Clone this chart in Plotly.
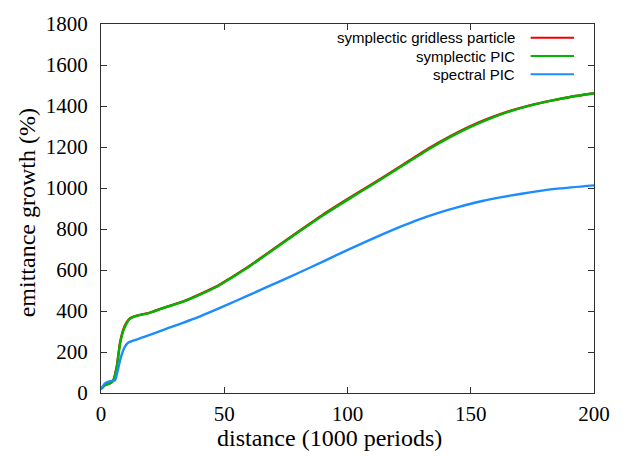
import plotly.graph_objects as go

# distance (1000 periods) / emittance growth (%)
x_gridless = [0, 1.6, 3.7, 5.0, 6.4, 7.7, 9.1, 10.4, 11.5, 12.5, 15, 19.9, 25, 33.4, 40.2, 46.9, 50, 56.4, 60, 70,
              80.7, 90, 100, 110, 118.6, 125.4, 133.5, 141.6, 149.7, 157.8, 165.9, 174, 182.2, 190.3, 200]
y_gridless = [20, 38, 48, 62, 130, 244, 312, 344, 362, 369, 379, 392, 414, 447, 482, 520, 542, 590, 618, 702,
              793, 870, 946, 1020, 1084, 1136, 1197, 1252, 1301, 1342, 1376, 1403, 1425, 1444, 1462]

x_spic = [0, 1.6, 3.7, 5.0, 6.4, 7.7, 9.1, 10.4, 11.5, 12.5, 15, 19.9, 25, 33.4, 40.2, 46.9, 50, 56.4, 60, 70,
          80.7, 90, 100, 110, 118.6, 125.4, 133.5, 141.6, 149.7, 157.8, 165.9, 174, 182.2, 190.3, 200]
y_spic = [20, 38, 48, 62, 126, 238, 305, 340, 360, 368, 378, 391, 413, 446, 480, 518, 540, 588, 616, 700,
          790, 866, 942, 1016, 1080, 1132, 1193, 1248, 1297, 1339, 1374, 1402, 1425, 1444, 1462]

x_spectral = [0, 1.6, 3.7, 5.7, 6.7, 7.7, 8.6, 9.5, 11.1, 13.1, 17.2, 26.7, 40.2, 53.7, 67.2, 80.7, 90, 101,
              113.2, 121.3, 129.4, 137.5, 145.6, 153.8, 161.9, 170, 178.1, 186.2, 200]
y_spectral = [20, 47, 58, 62, 105, 158, 195, 222, 246, 256, 272, 314, 374, 444, 516, 589, 641, 703,
              769, 810, 848, 881, 909, 934, 954, 971, 986, 998, 1013]

names = ["symplectic gridless particle", "symplectic PIC", "spectral PIC"]
colors = ["#f00000", "#00b400", "#1a8cff"]

fig = go.Figure()
for xs, ys, c, n in [(x_gridless, y_gridless, colors[0], names[0]),
                     (x_spic, y_spic, colors[1], names[1]),
                     (x_spectral, y_spectral, colors[2], names[2])]:
    fig.add_trace(go.Scatter(x=xs, y=ys, mode="lines", name=n,
                             line=dict(color=c, width=2.4, shape="spline", smoothing=0.5),
                             showlegend=False))

serif = "Liberation Serif, Times New Roman, serif"
sans = "Liberation Sans, Arial, sans-serif"

axis_common = dict(showgrid=False, zeroline=False, showline=True, linecolor="#303030", linewidth=1.2,
                   mirror="allticks", ticks="inside", ticklen=6, tickcolor="#303030",
                   tickfont=dict(family=serif, size=21, color="black"))

fig.update_xaxes(range=[0, 200], tickvals=[0, 50, 100, 150, 200], ticklabelstandoff=2, **axis_common)
fig.update_yaxes(range=[0, 1800], tickvals=list(range(0, 1801, 200)), ticklabelstandoff=8, **axis_common)

annotations = [
    dict(text="distance (1000 periods)", xref="paper", yref="paper", x=0.4635, y=-0.122,
         xanchor="center", yanchor="middle", showarrow=False, font=dict(family=serif, size=24, color="black")),
    dict(text="emittance growth (%)", xref="paper", yref="paper", x=-0.15, y=0.487,
         xanchor="center", yanchor="middle", textangle=-90, showarrow=False,
         font=dict(family=serif, size=24, color="black")),
]
shapes = []
legend_y = [0.963, 0.913, 0.864]
for n, c, ly in zip(names, colors, legend_y):
    annotations.append(dict(text=n, xref="paper", yref="paper", x=0.8438, y=ly, xanchor="right",
                            yanchor="middle", showarrow=False, font=dict(family=sans, size=15, color="black")))
    shapes.append(dict(type="line", xref="paper", yref="paper", x0=0.8716, x1=0.9594, y0=ly, y1=ly,
                       line=dict(color=c, width=2)))

fig.update_layout(width=635, height=456, margin=dict(l=101, r=41, t=16, b=63),
                  plot_bgcolor="white", paper_bgcolor="white",
                  annotations=annotations, shapes=shapes)

fig.write_html("out.html")
